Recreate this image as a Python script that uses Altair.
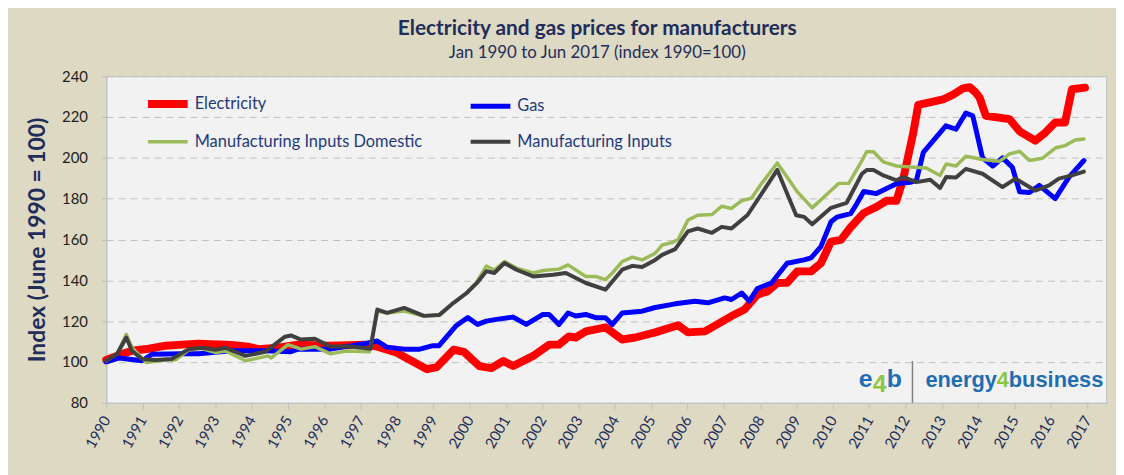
import altair as alt
import pandas as pd

series_names = ["Electricity", "Gas", "Manufacturing Inputs Domestic", "Manufacturing Inputs"]
series_colors = ["#FF0000", "#0000FF", "#9BBB59", "#404040"]
series_widths = [8, 5, 3.5, 4]
legend_order = [0, 2, 1, 3]

elec_year = [1990.0, 1990.36, 1990.71, 1991.17, 1991.64, 1992.08, 1992.54, 1993.44, 1993.9, 1994.18,
             1994.73, 1995.27, 1996.17, 1997.1, 1997.46, 1998.0, 1998.36, 1998.83, 1999.1, 1999.56,
             1999.84, 2000.27, 2000.6, 2000.93, 2001.2, 2001.75, 2002.19, 2002.46, 2002.73, 2002.92,
             2003.2, 2003.74, 2004.2, 2004.56, 2005.11, 2005.74, 2006.01, 2006.48, 2007.21, 2007.57,
             2007.92, 2008.2, 2008.47, 2008.74, 2009.02, 2009.4, 2009.67, 2009.95, 2010.22, 2010.49,
             2010.85, 2011.2, 2011.48, 2011.75, 2011.94, 2012.21, 2012.35, 2012.76, 2013.03, 2013.31,
             2013.58, 2013.77, 2013.93, 2014.04, 2014.21, 2014.86, 2015.14, 2015.57, 2015.85, 2016.12,
             2016.39, 2016.58, 2016.94]
elec_value = [101, 103.5, 105.5, 106.5, 108, 108.5, 109, 108.3, 107.5, 106.3,
              107, 108.5, 108, 108.5, 107.5, 104.5, 101, 96.5, 97.5, 106,
              105, 98, 97, 100.5, 98, 103, 108.5, 108.5, 112.5, 112,
              115, 117, 111, 112, 114.5, 118, 114.5, 115, 122.5, 125.7,
              133, 134.6, 138.7, 138.8, 144.4, 144.4, 148.4, 159, 159.8, 166,
              173, 176, 179, 179, 190, 212, 226, 227.6, 228.6, 231,
              234, 234.6, 232, 229.5, 220.6, 219, 213, 208.4, 212.4, 217.3,
              217.3, 233.6, 234.4]

gas_year = [1990.0, 1990.36, 1990.98, 1991.26, 1992.08, 1992.54, 1993.44, 1994.37, 1995.08, 1995.27,
            1996.17, 1997.1, 1997.46, 1997.73, 1998.2, 1998.63, 1998.99, 1999.16, 1999.62, 1999.95,
            2000.22, 2000.46, 2000.74, 2001.2, 2001.56, 2002.02, 2002.19, 2002.46, 2002.71, 2002.92,
            2003.2, 2003.47, 2003.74, 2003.93, 2004.2, 2004.75, 2005.11, 2005.66, 2006.2, 2006.56,
            2007.02, 2007.21, 2007.49, 2007.7, 2007.92, 2008.31, 2008.74, 2009.21, 2009.4, 2009.67,
            2009.95, 2010.11, 2010.49, 2010.66, 2010.85, 2011.2, 2011.48, 2011.75, 2012.13, 2012.3,
            2012.49, 2012.84, 2013.11, 2013.39, 2013.66, 2013.85, 2014.12, 2014.4, 2014.67, 2014.94,
            2015.14, 2015.41, 2015.68, 2016.12, 2016.5, 2016.91]
gas_value = [100, 102, 100.6, 103.8, 104, 104, 105.5, 105.5, 105, 106.3,
             106.3, 109, 110.3, 107.2, 106.3, 106.3, 108, 108, 117.6, 121.8,
             118.4, 120, 120.9, 122, 118.4, 123.3, 123.3, 118.4, 124, 122.5,
             123.3, 121.7, 121.7, 118.4, 124, 124.9, 126.7, 128.5, 129.8, 129,
             131.4, 130.6, 133.8, 129.8, 136, 138.7, 148.4, 150, 151, 156.5,
             168.7, 171, 172.7, 177.6, 183.5, 182.5, 185, 187.3, 188, 189,
             202.7, 210, 215.7, 214, 222, 220.6, 200, 196, 200, 195.4,
             183.4, 183, 186.5, 180, 190.6, 198.7]

mid_year = [1990.0, 1990.3, 1990.55, 1990.71, 1991.1, 1991.64, 1991.91, 1992.27, 1992.63, 1993.01,
            1993.28, 1993.83, 1994.45, 1994.54, 1995.0, 1995.36, 1995.74, 1996.17, 1996.6, 1997.25,
            1997.46, 1997.73, 1998.2, 1998.74, 1999.2, 1999.56, 1999.92, 2000.19, 2000.46, 2000.68,
            2000.96, 2001.29, 2001.75, 2002.02, 2002.46, 2002.71, 2003.2, 2003.47, 2003.74, 2003.93,
            2004.2, 2004.48, 2004.75, 2005.11, 2005.3, 2005.57, 2005.74, 2006.01, 2006.28, 2006.67,
            2006.94, 2007.21, 2007.49, 2007.76, 2008.0, 2008.47, 2009.02, 2009.43, 2009.95, 2010.16,
            2010.44, 2010.8, 2010.93, 2011.12, 2011.39, 2011.75, 2012.13, 2012.57, 2012.95, 2013.12,
            2013.39, 2013.66, 2014.12, 2014.59, 2014.86, 2015.14, 2015.41, 2015.77, 2016.12, 2016.39,
            2016.67, 2016.91]
mid_value = [100.6, 104, 113.6, 107, 99.8, 101, 101, 106, 106.6, 104.6,
             105.4, 100.6, 103, 102, 108.5, 106.3, 107.5, 104, 105.4, 105,
             125, 124, 125, 122.5, 123, 129, 133.8, 139, 147, 145,
             149.2, 146, 143.6, 144.8, 145.5, 147.6, 141.9, 141.9, 140.3, 143.6,
             149.2, 151.4, 150, 153.3, 157.3, 158.5, 160, 169.5, 171.9, 172.2,
             176.3, 175.2, 179, 180.3, 186.5, 197.5, 183.4, 175.5, 184, 187.5,
             187.6, 198.7, 203, 203, 198, 196, 195.5, 195, 191.4, 197,
             196, 200.8, 199.2, 198.3, 201.9, 203.2, 198.7, 199.8, 204.8, 206,
             208.7, 209.2]

mi_year = [1990.0, 1990.3, 1990.55, 1990.71, 1990.98, 1991.36, 1991.8, 1992.27, 1992.63, 1993.01,
           1993.28, 1993.83, 1994.37, 1994.92, 1995.08, 1995.36, 1995.74, 1996.17, 1996.72, 1997.27,
           1997.46, 1997.73, 1998.2, 1998.74, 1999.16, 1999.56, 1999.92, 2000.19, 2000.46, 2000.68,
           2000.96, 2001.29, 2001.75, 2002.3, 2002.65, 2003.2, 2003.74, 2004.2, 2004.48, 2004.75,
           2005.11, 2005.3, 2005.66, 2006.01, 2006.28, 2006.67, 2006.94, 2007.21, 2007.65, 2008.47,
           2008.99, 2009.21, 2009.43, 2009.95, 2010.38, 2010.8, 2010.93, 2011.12, 2011.39, 2011.75,
           2011.94, 2012.3, 2012.68, 2012.95, 2013.12, 2013.39, 2013.66, 2014.12, 2014.67, 2015.03,
           2015.57, 2015.95, 2016.22, 2016.58, 2016.91]
mi_value = [100.6, 104, 112, 105.4, 101.5, 101, 101.5, 106.3, 107, 106,
            107, 103, 105, 112.4, 113, 111, 111.4, 107.6, 107.6, 106.5,
            125.7, 124.1, 126.5, 122.6, 123, 129, 133.8, 138.5, 144.5, 143.6,
            148.5, 145.2, 141.9, 142.7, 143.6, 138.7, 135.4, 145.2, 147.1, 146.5,
            150, 152.5, 155.3, 164, 165.4, 163.3, 166.2, 165.4, 172, 194.1,
            171.9, 171.1, 167.5, 175.5, 178, 192.2, 194, 194, 191.4, 189,
            190.6, 188.1, 189.3, 185.2, 190.6, 190.4, 194.6, 192.2, 185.7, 189.8,
            184, 186.5, 189.8, 191.4, 193.3]

x_tick_years = list(range(1990, 2018))
y_tick_values = [80, 100, 120, 140, 160, 180, 200, 220, 240]

rows = []
for name, yrs, vals in zip(series_names,
                           [elec_year, gas_year, mid_year, mi_year],
                           [elec_value, gas_value, mid_value, mi_value]):
    for yv, vv in zip(yrs, vals):
        rows.append({"series": name, "year": yv, "value": vv})
df = pd.DataFrame(rows)

NAVY = "#1F2D5A"
FONT = "Lato"

dom = [series_names[i] for i in legend_order]
color_scale = alt.Scale(domain=dom, range=[series_colors[i] for i in legend_order])
width_scale = alt.Scale(type="ordinal", domain=dom, range=[series_widths[i] for i in legend_order])

x_enc = alt.X("year:Q",
              scale=alt.Scale(domain=[1990, 2017.52], nice=False, zero=False),
              axis=alt.Axis(values=x_tick_years, format="d", labelAngle=-60, title=None,
                            grid=False, labelFont=FONT, labelFontSize=15, labelColor=NAVY,
                            tickSize=6, tickColor="#BFBFBF", domainColor="#BFBFBF",
                            labelPadding=8, labelFlush=False, labelOverlap=False))
y_enc = alt.Y("value:Q",
              scale=alt.Scale(domain=[80, 240], nice=False, zero=False),
              axis=alt.Axis(values=y_tick_values, title="Index  (June 1990 = 100)",
                            titleFont=FONT, titleFontSize=23, titleFontWeight="bold",
                            titleColor=NAVY, titlePadding=12,
                            labelFont=FONT, labelFontSize=15, labelColor="#222222",
                            labelPadding=14, tickSize=5, tickColor="#BFBFBF",
                            domainColor="#BFBFBF", grid=True, gridColor="#BFBFBF",
                            gridDash=[7, 5], gridWidth=1))
legend = alt.Legend(title=None, orient="none", legendX=38, legendY=4, columns=2,
                    symbolType="stroke", symbolSize=1600, symbolDash=[1, 0],
                    columnPadding=38, rowPadding=-1, labelFont=FONT, labelFontSize=16.5,
                    labelColor="#1F3A7A", labelLimit=400, labelOffset=3, symbolOpacity=1)

layers = []
for name in series_names:
    layers.append(
        alt.Chart(df).transform_filter(alt.datum.series == name)
        .mark_line(strokeJoin="round", strokeCap="round")
        .encode(x=x_enc, y=y_enc,
                color=alt.Color("series:N", scale=color_scale, legend=legend),
                strokeWidth=alt.StrokeWidth("series:N", scale=width_scale, legend=legend),
                order=alt.Order("year:Q"))
    )

one = pd.DataFrame({"k": [0]})
BLUE = "#1F6DB2"
GREEN = "#8DC63F"

def logo_text(txt, x, y, color, size, align):
    return alt.Chart(one).mark_text(text=txt, font="Liberation Sans", fontWeight="bold",
                                    fontSize=size, color=color, align=align,
                                    baseline="alphabetic").encode(
        x=alt.value(x), y=alt.value(y))

logo = [
    logo_text("e", 758, 313, BLUE, 25, "left"),
    logo_text("4", 779, 318, GREEN, 25, "center"),
    logo_text("b", 786, 313, BLUE, 25, "left"),
    logo_text("energy", 825, 313, BLUE, 22, "left"),
    logo_text("4", 897, 313, GREEN, 22, "left"),
    logo_text("business", 909, 313, BLUE, 22, "left"),
    alt.Chart(one).mark_rule(color="#808080", strokeWidth=1.5).encode(
        x=alt.value(812), y=alt.value(287), y2=alt.value(329)),
]

chart = alt.layer(*layers, *logo).properties(
    width=1007, height=329,
    title=alt.TitleParams(text="Electricity and gas prices for manufacturers",
                          subtitle="Jan 1990 to Jun 2017 (index 1990=100)",
                          font=FONT, fontSize=21, fontWeight="bold", color=NAVY,
                          subtitleFont=FONT, subtitleFontSize=17, subtitleColor=NAVY,
                          anchor="middle", dx=-9, offset=8, subtitlePadding=6),
    background="#DDD9C3",
    padding={"left": 99, "top": 67, "right": 10, "bottom": 71},
    autosize=alt.AutoSizeParams(type="none"),
).configure_view(fill="#F2F2F2", stroke="#BFBFBF", strokeWidth=1)

chart.save("out.html", embed_options={"renderer": "svg", "actions": False})
